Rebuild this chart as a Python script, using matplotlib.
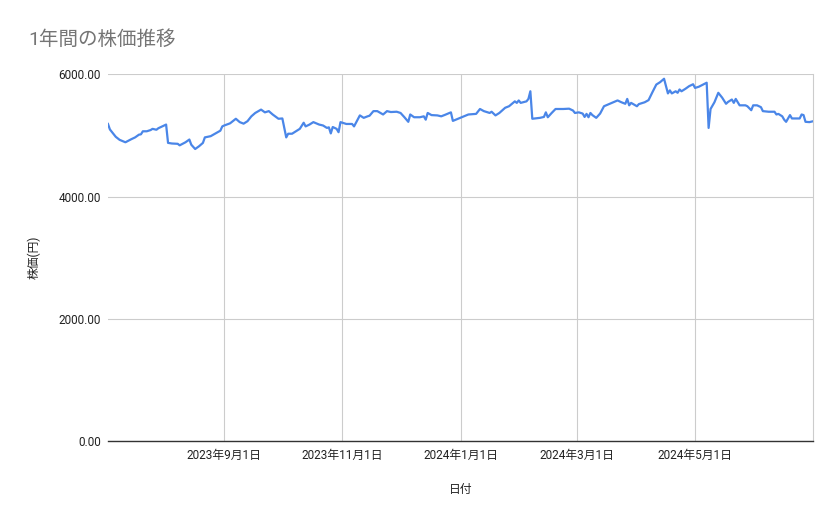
import pandas as pd
import matplotlib
matplotlib.use('Agg')
from matplotlib import pyplot as plt

plt.rcParams['font.family'] = ['Roboto', 'Noto Sans CJK JP', 'DejaVu Sans']

# values
dates = [
    '2023-07-03', '2023-07-04', '2023-07-07', '2023-07-09', '2023-07-12', '2023-07-15',
    '2023-07-17', '2023-07-19', '2023-07-20', '2023-07-21', '2023-07-23', '2023-07-25',
    '2023-07-26', '2023-07-28', '2023-07-29', '2023-08-02', '2023-08-03', '2023-08-05',
    '2023-08-08', '2023-08-09', '2023-08-12', '2023-08-14', '2023-08-15', '2023-08-17',
    '2023-08-19', '2023-08-21', '2023-08-22', '2023-08-25', '2023-08-28', '2023-08-30',
    '2023-08-31', '2023-09-01', '2023-09-04', '2023-09-07', '2023-09-09', '2023-09-11',
    '2023-09-13', '2023-09-15', '2023-09-17', '2023-09-20', '2023-09-22', '2023-09-24',
    '2023-09-26', '2023-09-29', '2023-10-01', '2023-10-03', '2023-10-04', '2023-10-06',
    '2023-10-08', '2023-10-10', '2023-10-12', '2023-10-13', '2023-10-15', '2023-10-17',
    '2023-10-20', '2023-10-22', '2023-10-24', '2023-10-25', '2023-10-26', '2023-10-27',
    '2023-10-29', '2023-10-30', '2023-10-31', '2023-11-03', '2023-11-06', '2023-11-07',
    '2023-11-10', '2023-11-12', '2023-11-14', '2023-11-15', '2023-11-17', '2023-11-19',
    '2023-11-22', '2023-11-24', '2023-11-26', '2023-11-29', '2023-12-01', '2023-12-03',
    '2023-12-05', '2023-12-06', '2023-12-08', '2023-12-11', '2023-12-13', '2023-12-14',
    '2023-12-15', '2023-12-17', '2023-12-20', '2023-12-22', '2023-12-24', '2023-12-27',
    '2023-12-28', '2023-12-31', '2024-01-05', '2024-01-09', '2024-01-11', '2024-01-13',
    '2024-01-16', '2024-01-17', '2024-01-19', '2024-01-21', '2024-01-24', '2024-01-26',
    '2024-01-29', '2024-01-30', '2024-01-31', '2024-02-01', '2024-02-04', '2024-02-05',
    '2024-02-06', '2024-02-07', '2024-02-11', '2024-02-13', '2024-02-14', '2024-02-15',
    '2024-02-17', '2024-02-19', '2024-02-23', '2024-02-26', '2024-02-28', '2024-02-29',
    '2024-03-02', '2024-03-04', '2024-03-05', '2024-03-06', '2024-03-07', '2024-03-08',
    '2024-03-09', '2024-03-11', '2024-03-13', '2024-03-15', '2024-03-18', '2024-03-20',
    '2024-03-22', '2024-03-24', '2024-03-26', '2024-03-27', '2024-03-28', '2024-03-29',
    '2024-04-01', '2024-04-02', '2024-04-05', '2024-04-07', '2024-04-09', '2024-04-11',
    '2024-04-13', '2024-04-15', '2024-04-17', '2024-04-18', '2024-04-19', '2024-04-21',
    '2024-04-22', '2024-04-23', '2024-04-24', '2024-04-26', '2024-04-28', '2024-04-30',
    '2024-05-01', '2024-05-03', '2024-05-07', '2024-05-08', '2024-05-09', '2024-05-11',
    '2024-05-13', '2024-05-15', '2024-05-17', '2024-05-18', '2024-05-20', '2024-05-21',
    '2024-05-22', '2024-05-24', '2024-05-27', '2024-05-28', '2024-05-30', '2024-05-31',
    '2024-06-02', '2024-06-04', '2024-06-05', '2024-06-08', '2024-06-11', '2024-06-12',
    '2024-06-13', '2024-06-15', '2024-06-16', '2024-06-17', '2024-06-19', '2024-06-20',
    '2024-06-21', '2024-06-24', '2024-06-25', '2024-06-26', '2024-06-27', '2024-06-29',
    '2024-07-01',
]
prices = [
    5190, 5100, 4980, 4930, 4890, 4940,
    4970, 5015, 5020, 5070, 5070, 5090,
    5110, 5095, 5120, 5180, 4880, 4870,
    4865, 4840, 4890, 4935, 4850, 4780,
    4825, 4880, 4970, 4990, 5045, 5080,
    5150, 5165, 5200, 5275, 5220, 5195,
    5235, 5315, 5370, 5425, 5380, 5400,
    5345, 5275, 5280, 4970, 5030, 5030,
    5070, 5110, 5210, 5150, 5180, 5220,
    5180, 5165, 5125, 5135, 5035, 5140,
    5110, 5055, 5220, 5190, 5190, 5150,
    5330, 5290, 5315, 5325, 5400, 5400,
    5345, 5400, 5385, 5390, 5370, 5300,
    5225, 5345, 5300, 5300, 5315, 5260,
    5370, 5335, 5330, 5315, 5340, 5380,
    5240, 5280, 5345, 5355, 5435, 5400,
    5370, 5390, 5330, 5370, 5455, 5480,
    5560, 5535, 5575, 5535, 5560, 5600,
    5725, 5275, 5290, 5305, 5380, 5300,
    5370, 5435, 5435, 5440, 5410, 5370,
    5380, 5360, 5305, 5355, 5300, 5370,
    5335, 5290, 5360, 5480, 5520, 5545,
    5575, 5545, 5520, 5600, 5495, 5535,
    5480, 5515, 5545, 5580, 5710, 5835,
    5875, 5930, 5690, 5740, 5690, 5725,
    5700, 5755, 5725, 5765, 5810, 5840,
    5780, 5800, 5865, 5125, 5435, 5545,
    5700, 5620, 5520, 5550, 5590, 5535,
    5600, 5495, 5495, 5480, 5415, 5495,
    5495, 5465, 5400, 5390, 5390, 5345,
    5355, 5315, 5260, 5225, 5335, 5280,
    5280, 5280, 5345, 5335, 5225, 5220,
    5235,
]

tick_dates = ['2023-09-01', '2023-11-01', '2024-01-01', '2024-03-01', '2024-05-01']
tick_labels = ['2023年9月1日', '2023年11月1日', '2024年1月1日', '2024年3月1日', '2024年5月1日']
y_ticks = [0, 2000, 4000, 6000]

df = pd.DataFrame({'date': pd.to_datetime(dates), 'price': prices})

fig = plt.figure(figsize=(8.39, 5.19), dpi=100)
ax = fig.add_axes([0.1287, 0.1503, 0.8406, 0.7062])

ax.plot(df['date'], df['price'], color='#4a86e8', linewidth=1.6)

ax.set_xlim(df['date'].min(), df['date'].max())
ax.set_ylim(0, 6000)
ax.set_yticks(y_ticks)
ax.set_yticklabels(['%.2f' % v for v in y_ticks])
ax.set_xticks(pd.to_datetime(tick_dates))
ax.set_xticklabels(tick_labels)

ax.grid(True, color='#cccccc', linewidth=0.8)
ax.set_axisbelow(True)
for s in ['top', 'left']:
    ax.spines[s].set_visible(False)
ax.spines['right'].set_color('#cccccc')
ax.spines['right'].set_linewidth(0.8)
ax.spines['bottom'].set_color('#333333')
ax.spines['bottom'].set_linewidth(1.0)
ax.tick_params(axis='both', length=0, labelsize=8.5, labelcolor='#222222')
ax.tick_params(axis='x', pad=6)
ax.tick_params(axis='y', pad=5)

ax.set_xlabel('日付', fontsize=8.5, color='#222222', labelpad=15)
ax.set_ylabel('株価(円)', fontsize=8.5, color='#222222', labelpad=13)

fig.text(28 / 839, 1 - 40 / 519, '1年間の株価推移', fontsize=14, color='#757575', va='center', ha='left')

plt.savefig('out.png', dpi=100)
